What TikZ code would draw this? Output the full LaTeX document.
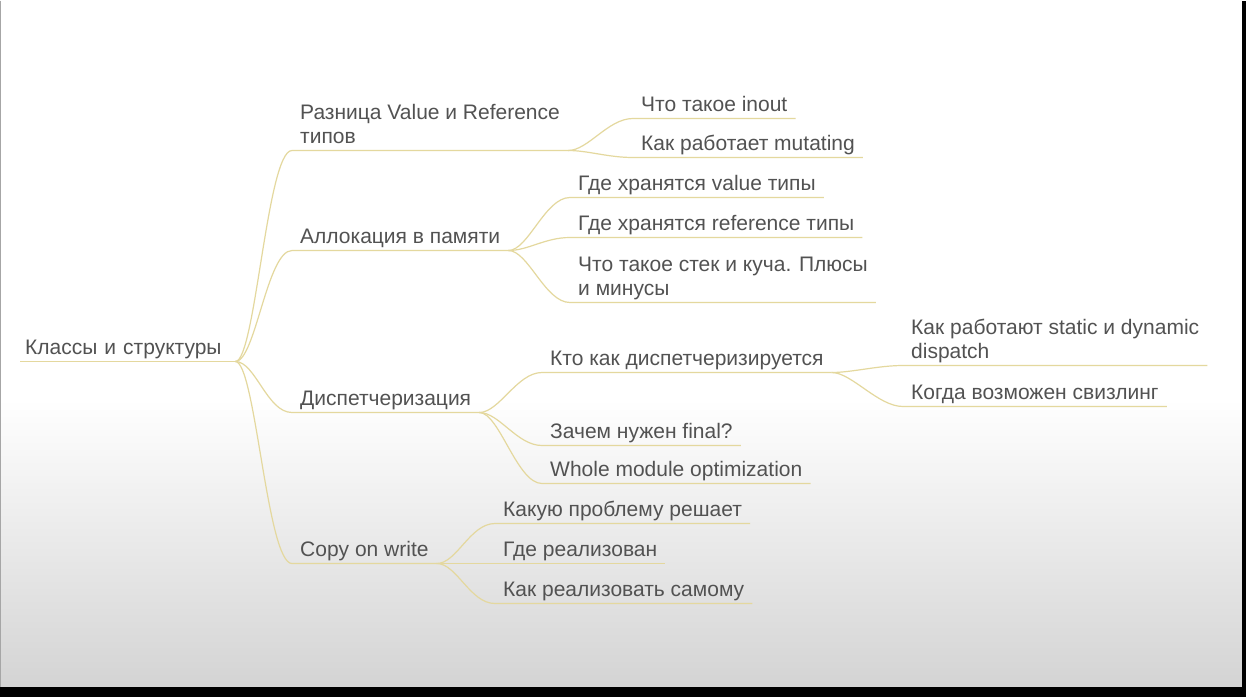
\documentclass[tikz,border=0pt]{standalone}
\usepackage{fontspec}
\newfontfamily\mapfont{Liberation Sans}
\usetikzlibrary{shapes}
\definecolor{maptext}{RGB}{82,82,82}
\definecolor{mapline}{RGB}{228,216,158}
\tikzset{
	mapnode/.style = {
		align=left,
		anchor=south west,
		inner xsep=8pt,
		inner ysep=1pt,
		text depth=6pt,
		font=\mapfont\fontsize{21}{24}\selectfont,
		text=maptext
	},
	node_root/.style = {
		mapnode,
		inner xsep=5pt,
		text width=205pt
	},
	edge_map/.style = {
		draw=mapline,
		line width=1.2pt
	},
}
\begin{document}
\begin{tikzpicture}[x=1pt,y=-1pt]
% screen background
\fill[white] (0,0) rectangle (1242,400);
\shade[top color=white,bottom color=black!17] (0,399) rectangle (1242,686);
\fill[black] (0,686) rectangle (1246,696);
\fill[black] (1242,0) rectangle (1246,686);
\draw[black!35, line width=1pt] (0.5,0) -- (0.5,686);
\useasboundingbox (0,0) rectangle (1246,696);

\node [node_root] (root) at (20,361) {Классы и структуры};

\node [mapnode] (raz) at (292,150) {Разница Value и Reference\\типов};
\node [mapnode] (alloc) at (292,250) {Аллокация в памяти};
\node [mapnode] (disp) at (292,412) {Диспетчеризация};
\node [mapnode] (cow) at (292,563) {Copy on write};

\node [mapnode] (inout) at (633,118) {Что такое inout};
\node [mapnode] (mut) at (633,157) {Как работает mutating};

\node [mapnode] (val) at (570,197) {Где хранятся value типы};
\node [mapnode] (ref) at (570,237) {Где хранятся reference типы};
\node [mapnode] (stack) at (570,302) {Что такое стек и куча. Плюсы\\и минусы};

\node [mapnode] (who) at (542,372) {Кто как диспетчеризируется};
\node [mapnode] (final) at (542,445) {Зачем нужен final?};
\node [mapnode] (whole) at (542,483) {Whole module optimization};

\node [mapnode] (stat) at (903,365) {Как работают static и dynamic\\dispatch};
\node [mapnode] (swz) at (903,406) {Когда возможен свизлинг};

\node [mapnode] (prob) at (495,523) {Какую проблему решает};
\node [mapnode] (impl) at (495,563) {Где реализован};
\node [mapnode] (self) at (495,603) {Как реализовать самому};

% branches
\draw[edge_map] (root.south west) -- (root.south east);
\foreach \t in {raz,alloc,disp,cow}
	\draw[edge_map] (root.south east) .. controls +(20,0) and +(-25,0) .. (\t.south west) -- (\t.south east);
\foreach \t in {inout,mut}
	\draw[edge_map] (raz.south east) .. controls +(20,0) and +(-25,0) .. (\t.south west) -- (\t.south east);
\foreach \t in {val,ref,stack}
	\draw[edge_map] (alloc.south east) .. controls +(20,0) and +(-25,0) .. (\t.south west) -- (\t.south east);
\foreach \t in {who,final,whole}
	\draw[edge_map] (disp.south east) .. controls +(20,0) and +(-25,0) .. (\t.south west) -- (\t.south east);
\foreach \t in {stat,swz}
	\draw[edge_map] (who.south east) .. controls +(20,0) and +(-25,0) .. (\t.south west) -- (\t.south east);
\foreach \t in {prob,impl,self}
	\draw[edge_map] (cow.south east) .. controls +(20,0) and +(-25,0) .. (\t.south west) -- (\t.south east);
\end{tikzpicture}
\end{document}
